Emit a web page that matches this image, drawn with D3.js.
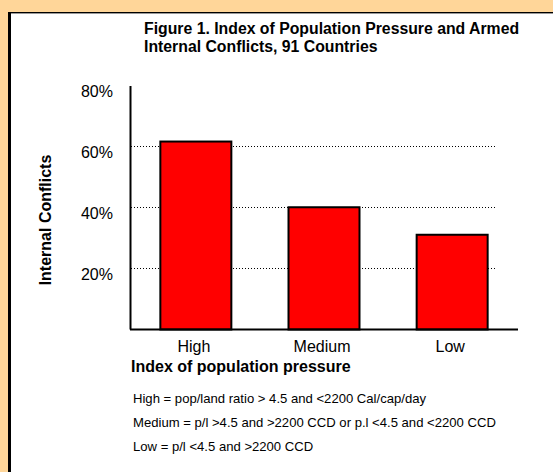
<!DOCTYPE html>
<html>
<head>
<meta charset="utf-8">
<script src="https://cdn.jsdelivr.net/npm/d3@7/dist/d3.min.js"></script>
<style>
  html, body { margin: 0; padding: 0; background: #FFD699; }
  svg { display: block; }
  text { font-family: "Liberation Sans", Arial, Helvetica, sans-serif; fill: #000; }
</style>
</head>
<body>
<svg id="chart" width="553" height="472"></svg>
<script>
// ---- data ----
const categories = ["High", "Medium", "Low"];
const values = [0.615, 0.40, 0.31];
const yTicks = [0.2, 0.4, 0.6, 0.8];
const titleLines = ["Figure 1. Index of Population Pressure and Armed", "Internal Conflicts, 91 Countries"];
const yTitle = "Internal Conflicts";
const xTitle = "Index of population pressure";
const notes = [
  "High = pop/land ratio > 4.5 and <2200 Cal/cap/day",
  "Medium = p/l >4.5 and >2200 CCD or p.l <4.5 and <2200 CCD",
  "Low = p/l <4.5 and >2200 CCD"
];

const svg = d3.select("#chart");
const W = 553, H = 472;

// background + white panel with frame
svg.append("rect").attr("x", 0).attr("y", 0).attr("width", W).attr("height", H).attr("fill", "#FFD699");
svg.append("rect").attr("x", 9).attr("y", 12).attr("width", W - 9).attr("height", H - 12).attr("fill", "#fff");
svg.append("rect").attr("x", 8).attr("y", 12).attr("width", 3).attr("height", H - 12).attr("fill", "#000");
svg.append("rect").attr("x", 8).attr("y", 12).attr("width", W - 8).attr("height", 1).attr("fill", "#000");
svg.append("rect").attr("x", 11).attr("y", 13).attr("width", W - 11).attr("height", 1).attr("fill", "#999");

// scales
const y = d3.scaleLinear().domain([0, 0.8]).range([329.5, 85]);
const x = d3.scaleBand().domain(categories).range([131, 517]).paddingInner(0.446).paddingOuter(0.229);

// gridlines (dotted)
svg.append("g").selectAll("line").data(yTicks.filter(t => t < 0.8)).join("line")
  .attr("x1", 131).attr("x2", 497)
  .attr("y1", d => Math.round(y(d)) + 0.5).attr("y2", d => Math.round(y(d)) + 0.5)
  .attr("stroke", "#000").attr("stroke-width", 1).attr("stroke-dasharray", "1,2");

// bars
svg.append("g").selectAll("rect").data(values).join("rect")
  .attr("x", (d, i) => x(categories[i]))
  .attr("y", d => y(d))
  .attr("width", x.bandwidth())
  .attr("height", d => y(0) - y(d))
  .attr("fill", "#FF0000").attr("stroke", "#000").attr("stroke-width", 2);

// y axis
const yAxis = d3.axisLeft(y).tickValues(yTicks).tickSize(0).tickFormat(d3.format(".0%"));
const gy = svg.append("g").attr("transform", "translate(130.5,0)").call(yAxis);
gy.select(".domain").attr("stroke", "#000").attr("stroke-width", 2).attr("d", `M0,${y(0.8) + 1}V${y(0)}`);
gy.selectAll(".tick text")
  .attr("x", -17.5).attr("dy", "0.7em")
  .attr("font-size", 16).attr("font-family", "Liberation Sans, Arial, sans-serif").attr("fill", "#000");

// x axis
const xAxis = d3.axisBottom(x).tickSize(0);
const gx = svg.append("g").attr("transform", `translate(0,${y(0)})`).call(xAxis);
gx.select(".domain").attr("stroke", "#000").attr("stroke-width", 2).attr("d", "M130,0H518");
gx.selectAll(".tick text")
  .attr("x", -2).attr("y", 11).attr("dy", "0.71em")
  .attr("font-size", 16).attr("font-family", "Liberation Sans, Arial, sans-serif").attr("fill", "#000");

// title
svg.append("text").attr("x", 144).attr("y", 33.5)
  .attr("font-size", 15.8).attr("font-weight", "bold")
  .selectAll("tspan").data(titleLines).join("tspan")
  .attr("x", 144).attr("dy", (d, i) => i === 0 ? 0 : 18.5).text(d => d);

// y title
svg.append("text").attr("transform", "translate(51,220) rotate(-90)")
  .attr("text-anchor", "middle").attr("font-size", 16).attr("font-weight", "bold").text(yTitle);

// x title
svg.append("text").attr("x", 131).attr("y", 372)
  .attr("font-size", 16).attr("font-weight", "bold").text(xTitle);

// notes
svg.append("g").selectAll("text").data(notes).join("text")
  .attr("x", 133).attr("y", (d, i) => 402.5 + i * 24.3)
  .attr("font-size", 13.1).text(d => d);
</script>
</body>
</html>
